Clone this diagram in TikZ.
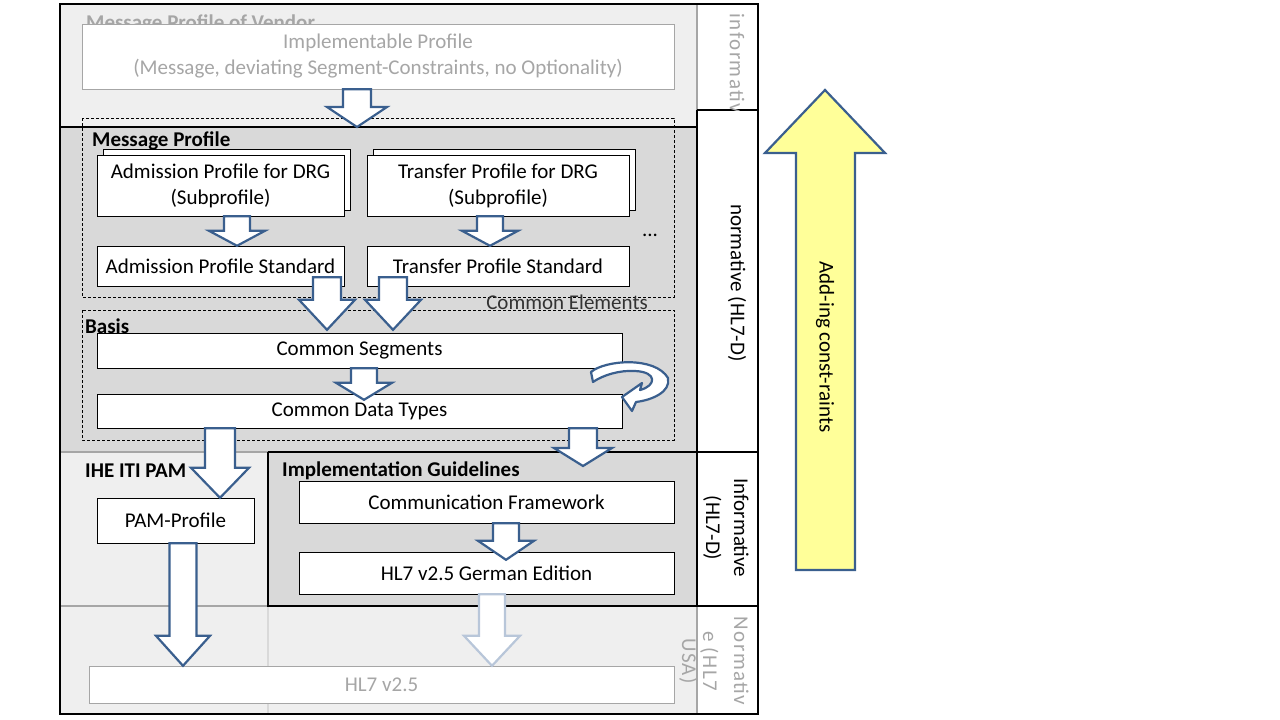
\documentclass[tikz,border=0pt]{standalone}
\usepackage{fontspec}
\setmainfont{Carlito}
\newfontfamily\spaced[LetterSpace=7]{Carlito}
\usetikzlibrary{calc,shadows}

\definecolor{paleband}{HTML}{EFEFEF}
\definecolor{normband}{HTML}{D9D9D9}
\definecolor{arrowblue}{HTML}{3A5F8E}
\definecolor{fadeblue}{HTML}{B8C6D9}
\definecolor{softtext}{HTML}{A6A6A6}
\definecolor{addyellow}{HTML}{FFFF99}

\begin{document}
\begin{tikzpicture}[
  x=1pt, y=-1pt,
  font=\fontsize{21}{26}\selectfont,
  box/.style={rectangle, draw, fill=white, inner sep=2pt, align=center},
  stacked/.style={box, copy shadow={shadow xshift=6pt, shadow yshift=6pt, fill=white, draw=black}},
  vendorbox/.style={box, draw=softtext, text=softtext},
  bandtitle/.style={anchor=base west, inner xsep=0pt, font=\fontsize{21}{26}\selectfont\bfseries},
  sidelabel/.style={rotate=-90, align=center},
  dashregion/.style={dash pattern=on 3pt off 2pt, line width=0.6pt},
  heavyline/.style={line width=2.6pt},
  lightline/.style={line width=2.6pt, draw=softtext},
  bigarrow/.style={draw=arrowblue, fill=addyellow, line width=2.2pt, line join=miter},
  fat shaft/.store in=\fatshaft, fat head/.store in=\fathead, fat len/.store in=\fatlen,
  fat shaft=13pt, fat head=28pt, fat len=17pt,
  fat arrow/.style={draw=arrowblue, fill=white, line width=2.2pt, line join=miter,
    to path={let \p1=(\tikztostart), \p2=(\tikztotarget) in
      (\x1-\fatshaft,\y1) -- (\x1-\fatshaft,\y2+\fatlen) -- (\x1-\fathead,\y2+\fatlen)
      -- (\x1,\y2) -- (\x1+\fathead,\y2+\fatlen) -- (\x1+\fatshaft,\y2+\fatlen)
      -- (\x1+\fatshaft,\y1) -- cycle}}
]
\useasboundingbox (0,0) rectangle (1280,720);

% bands
\fill[paleband] (60,4) rectangle (697,127);
\fill[normband] (60,127) rectangle (697,452);
\fill[paleband] (60,452) rectangle (268,606);
\fill[normband] (268,452) rectangle (697,606);
\fill[paleband] (60,606) rectangle (697,714);
\fill[white] (697,4) rectangle (758,714);

% band borders
\draw[lightline] (697,4) -- (697,110);
\draw[lightline] (697,606) -- (697,714);
\draw[lightline] (60,452) -- (268,452);
\draw[lightline] (60,606) -- (268,606);
\draw[line width=1.5pt, normband] (268,606) -- (268,714);
\draw[heavyline] (60,127) -- (697,127);
\draw[heavyline] (697,110) -- (758,110);
\draw[heavyline] (697,110) -- (697,606);
\draw[heavyline] (268,452) -- (758,452);
\draw[heavyline] (268,452) -- (268,606) -- (758,606);
\draw[heavyline] (60,4) rectangle (758,714);

% dashed groups
\draw[dashregion] (82,118) rectangle (674,297);
\draw[dashregion] (82,310) rectangle (674,440);

% vendor
\node[bandtitle, text=softtext] (vendortitle) at (86,29) {Message Profile of Vendor};
\node[vendorbox, minimum width=592pt, minimum height=65pt] (impl) at (378,56.5)
  {Implementable Profile\\(Message, deviating Segment-Constraints, no Optionality)};
\coordinate (normtop) at (357,127);

% message profile
\node[bandtitle] (msgtitle) at (92,146) {Message Profile};
\node[stacked, minimum width=247pt, minimum height=61pt] (adpro) at (220.5,185.5)
  {Admission Profile for DRG\\(Subprofile)};
\node[stacked, minimum width=262pt, minimum height=61pt] (trpro) at (498,185.5)
  {Transfer Profile for DRG\\(Subprofile)};
\node[box, minimum width=247pt, minimum height=40pt] (adstd) at (220.5,266) {Admission Profile Standard};
\node[box, minimum width=262pt, minimum height=40pt] (trstd) at (498,266) {Transfer Profile Standard};
\node[anchor=base] (more) at (650,236) {...};
\node[anchor=base east, inner xsep=0pt, text=black!80] (common) at (648,309) {Common Elements};

% basis
\node[bandtitle] (basistitle) at (85,333) {Basis};
\node[box, minimum width=525pt, minimum height=35pt] (segs) at (359.5,350.5) {Common Segments};
\node[box, minimum width=525pt, minimum height=34pt] (types) at (359.5,411) {Common Data Types};

% IHE and guidelines
\node[bandtitle] (pamtitle) at (85,477) {IHE ITI PAM};
\node[box, minimum width=157pt, minimum height=45pt] (pam) at (175.5,520.5) {PAM-Profile};
\node[bandtitle] (guidetitle) at (282,476) {Implementation Guidelines};
\coordinate (guidetop) at (583,466);
\node[box, minimum width=375pt, minimum height=42pt] (comfw) at (486.5,502) {Communication Framework};
\node[box, minimum width=375pt, minimum height=42pt] (german) at (486.5,573) {HL7 v2.5 German Edition};

% HL7 USA
\node[vendorbox, minimum width=585pt, minimum height=37pt] (hl7) at (381.5,684.5) {HL7 v2.5};

% side column
\begin{scope}
  \clip (697,4) rectangle (758,110);
  \node[sidelabel, anchor=west, text=softtext, font=\spaced\fontsize{21}{26}\selectfont] (infolabel) at (737,10) {informative};
\end{scope}
\node[sidelabel] (normlabel) at (737,283) {normative (HL7-D)};
\node[sidelabel, font=\fontsize{21}{28}\selectfont] (infohl7) at (726,528) {Informative\\(HL7-D)};
\node[sidelabel, text=softtext, font=\spaced\fontsize{21}{21}\selectfont] (usalabel) at (714,661)
  {Normativ\\[10pt]e (HL7\\USA)};

% constraints arrow
\draw[bigarrow] (796,570) -- (796,153) -- (765,153) -- (825,90) -- (885,153) -- (855,153) -- (855,570) -- cycle;
\node[rotate=-90, font=\fontsize{21}{26}\selectfont] (addlabel) at (825,347) {Add-ing const-raints};

% block arrows
\draw[fat arrow, fat shaft=14pt, fat head=30pt, fat len=20pt] ([xshift=-21pt]impl.south) to (normtop);
\draw[fat arrow, fat len=15pt] ([xshift=16.5pt]adpro.south) to (adstd.north);
\draw[fat arrow, fat len=15pt] ([xshift=-8pt]trpro.south) to (trstd.north);
\draw[fat arrow, fat shaft=14pt, fat len=30pt] ([xshift=106.5pt, yshift=9pt]adstd.south) to ([yshift=3pt]segs.north);
\draw[fat arrow, fat shaft=14pt, fat len=30pt] ([xshift=-105pt, yshift=9pt]trstd.south) to ([yshift=3pt]segs.north);
\draw[fat arrow] ([xshift=4.5pt]segs.south) to ([yshift=-6pt]types.north);
\draw[fat arrow, fat shaft=15pt, fat head=29pt, fat len=30pt] ([xshift=-139.5pt]types.south) to (pam.north);
\draw[fat arrow, fat shaft=14pt, fat head=29pt, fat len=18pt] ([xshift=223.5pt]types.south) to (guidetop);
\draw[fat arrow, fat len=19pt] ([xshift=19.5pt]comfw.south) to ([yshift=-8pt]german.north);
\draw[fat arrow, fat shaft=13.5pt, fat head=27pt, fat len=30pt] ([xshift=7.5pt]pam.south) to (hl7.north);
\draw[fat arrow, draw=fadeblue, fat len=30pt] ([xshift=5.5pt]german.south) to (hl7.north);

% loop arrow at the basis
\draw[draw=arrowblue, fill=white, line width=2.2pt, line join=round]
  (591,372) .. controls (605,360) and (655,356) .. (668,378)
  .. controls (671,392) and (652,400) .. (636,402) -- (632,411) -- (622,397) -- (642,383) -- (640,390)
  .. controls (656,386) and (658,372) .. (635,371)
  .. controls (620,370) and (603,375) .. (593,382) -- cycle;

\end{tikzpicture}
\end{document}
